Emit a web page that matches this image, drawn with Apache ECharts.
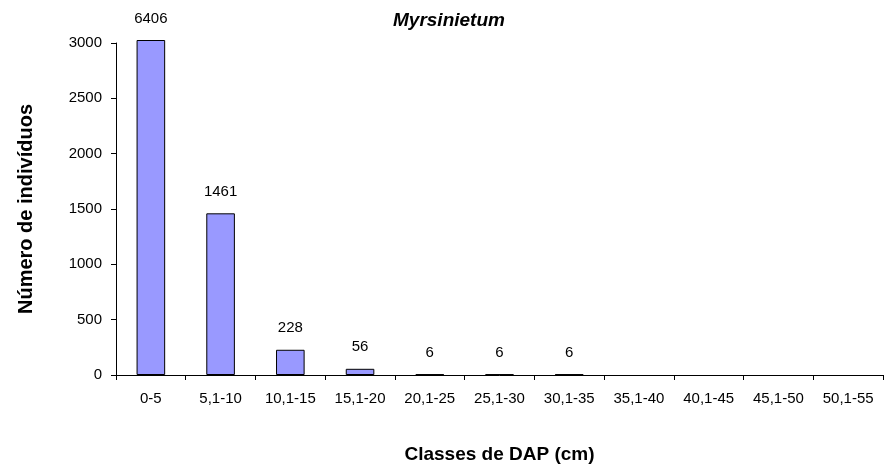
<!DOCTYPE html>
<html>
<head>
<meta charset="utf-8">
<script src="https://cdn.jsdelivr.net/npm/echarts@6/dist/echarts.min.js"></script>
<style>
html,body{margin:0;padding:0;background:#fff;}
#chart{width:884px;height:469px;}
</style>
</head>
<body>
<div id="chart"></div>
<script>
const categories = ['0-5','5,1-10','10,1-15','15,1-20','20,1-25','25,1-30','30,1-35','35,1-40','40,1-45','45,1-50','50,1-55'];
const values = [6406, 1461, 228, 56, 6, 6, 6, null, null, null, null];
const yTicks = [0, 500, 1000, 1500, 2000, 2500, 3000];
const titleText = 'Myrsinietum';
const xName = 'Classes de DAP (cm)';
const yName = 'Número de indivíduos';

const yMax = yTicks[yTicks.length - 1];
const barCap = yMax * 1.009; // bar drawn just past the axis top, as in the reference
const seriesData = values.map(v => v === null ? null : { value: Math.min(v, barCap), raw: v });

const chart = echarts.init(document.getElementById('chart'), null, { renderer: 'canvas' });
chart.setOption({
  animation: false,
  backgroundColor: '#ffffff',
  textStyle: { fontFamily: 'Liberation Sans, Arial, sans-serif' },
  title: {
    text: titleText,
    left: 393,
    top: 11,
    padding: 0,
    textStyle: { fontSize: 19, fontWeight: 'bold', fontStyle: 'italic', color: '#000', fontFamily: 'Liberation Sans, Arial, sans-serif' }
  },
  grid: { left: 116, right: 1, top: 43, bottom: 93, containLabel: false },
  xAxis: {
    type: 'category',
    data: categories,
    boundaryGap: true,
    name: xName,
    nameLocation: 'middle',
    nameGap: 70,
    nameTextStyle: { fontSize: 19, fontWeight: 'bold', color: '#000' },
    axisLine: { show: true, lineStyle: { color: '#000', width: 1 } },
    axisTick: { show: true, alignWithLabel: false, interval: 0, length: 5, lineStyle: { color: '#000' } },
    axisLabel: { interval: 0, fontSize: 15, color: '#000', margin: 16 },
    splitLine: { show: false }
  },
  yAxis: {
    type: 'value',
    min: 0,
    max: yMax,
    interval: 500,
    name: yName,
    nameLocation: 'middle',
    nameRotate: 90,
    nameGap: 80,
    nameTextStyle: { fontSize: 20, fontWeight: 'bold', color: '#000' },
    axisLine: { show: true, lineStyle: { color: '#000', width: 1 } },
    axisTick: { show: true, inside: false, length: 5, lineStyle: { color: '#000' } },
    axisLabel: { fontSize: 15, color: '#000', margin: 14, formatter: v => String(v) },
    splitLine: { show: false }
  },
  series: [{
    type: 'bar',
    data: seriesData,
    barWidth: '41%',
    clip: false,
    itemStyle: { color: '#9999FF', borderColor: '#000', borderWidth: 1 },
    label: {
      show: true,
      position: 'top',
      distance: 14,
      fontSize: 15,
      color: '#000',
      formatter: p => (p.data && p.data.raw !== undefined) ? String(p.data.raw) : ''
    }
  }]
});
</script>
</body>
</html>
